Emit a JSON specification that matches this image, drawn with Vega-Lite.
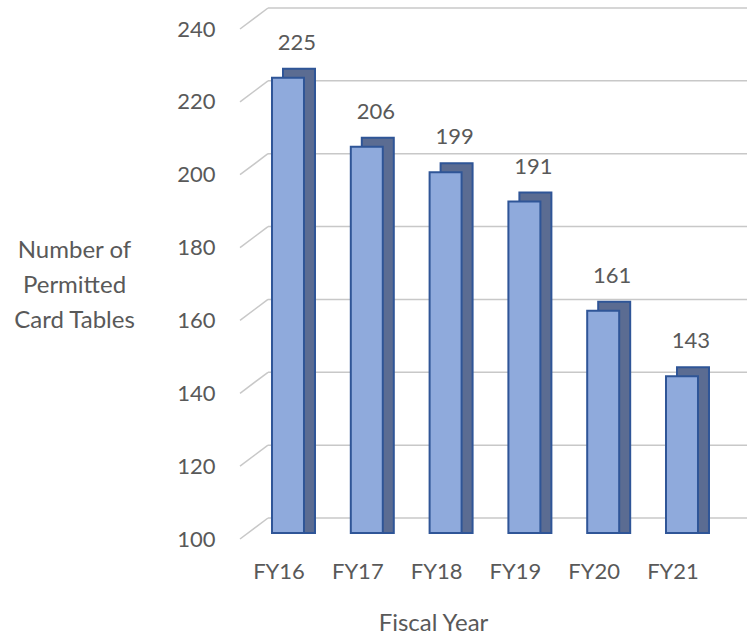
{
  "$schema": "https://vega.github.io/schema/vega-lite/v6.json",
  "width": 507,
  "height": 510,
  "autosize": {"type": "none"},
  "padding": {"left": 240, "top": 23, "right": 0, "bottom": 104},
  "background": "white",
  "config": {"view": {"stroke": null}, "font": "Lato"},
  "datasets": {
    "bars": [
      {"year": "FY16", "tables": 225},
      {"year": "FY17", "tables": 206},
      {"year": "FY18", "tables": 199},
      {"year": "FY19", "tables": 191},
      {"year": "FY20", "tables": 161},
      {"year": "FY21", "tables": 143}
    ],
    "ticks": [
      {"tick": 100}, {"tick": 120}, {"tick": 140}, {"tick": 160},
      {"tick": 180}, {"tick": 200}, {"tick": 220}, {"tick": 240}
    ]
  },
  "layer": [
    {
      "data": {"name": "ticks"},
      "mark": {"type": "rule", "color": "#C8C8C8", "strokeWidth": 1.5, "yOffset": 6, "y2Offset": -15},
      "encoding": {
        "x": {"value": 0},
        "x2": {"value": 28},
        "y": {"field": "tick", "type": "quantitative", "scale": {"domain": [100, 240], "nice": false, "zero": false},
              "axis": {"title": ["Number of", "Permitted", "Card Tables"], "titleAngle": 0, "titleAlign": "center", "titleBaseline": "middle",
                       "titleX": -166, "titleY": 227, "titleLineHeight": 35, "titleFontSize": 24, "titleFontWeight": "normal", "titleColor": "#595959",
                       "values": [100, 120, 140, 160, 180, 200, 220, 240], "domain": false, "ticks": false, "grid": false,
                       "labelFontSize": 22, "labelColor": "#595959", "labelPadding": 25, "labelOffset": 6}},
        "y2": {"field": "tick"}
      }
    },
    {
      "data": {"name": "ticks"},
      "mark": {"type": "rule", "color": "#C8C8C8", "strokeWidth": 1.5, "yOffset": -15},
      "encoding": {
        "x": {"value": 28},
        "x2": {"value": 507},
        "y": {"field": "tick", "type": "quantitative"}
      }
    },
    {
      "data": {"name": "bars"},
      "mark": {"type": "bar", "fill": "#5B6C92", "stroke": "#2F5597", "strokeWidth": 2, "xOffset": 11, "yOffset": -9},
      "encoding": {
        "x": {"field": "year", "type": "nominal", "sort": null,
              "scale": {"paddingInner": 0.594, "paddingOuter": 0.514, "align": 0.395},
              "axis": {"title": "Fiscal Year", "titleX": 193, "titleY": 90, "titleBaseline": "middle", "titleFontSize": 24, "titleFontWeight": "normal", "titleColor": "#595959",
                       "domain": false, "ticks": false, "labelAngle": 0, "labelFontSize": 22, "labelColor": "#595959", "labelPadding": 28, "labelOffset": -9}},
        "y": {"field": "tables", "type": "quantitative"},
        "y2": {"datum": 100}
      }
    },
    {
      "data": {"name": "bars"},
      "mark": {"type": "bar", "fill": "#8FAADC", "stroke": "#2F5597", "strokeWidth": 2},
      "encoding": {
        "x": {"field": "year", "type": "nominal", "sort": null},
        "y": {"field": "tables", "type": "quantitative"},
        "y2": {"datum": 100}
      }
    },
    {
      "data": {"name": "bars"},
      "mark": {"type": "text", "fontSize": 22, "color": "#595959", "dx": 9, "dy": -35, "baseline": "middle"},
      "encoding": {
        "x": {"field": "year", "type": "nominal", "sort": null},
        "y": {"field": "tables", "type": "quantitative"},
        "text": {"field": "tables", "type": "quantitative"}
      }
    }
  ]
}
